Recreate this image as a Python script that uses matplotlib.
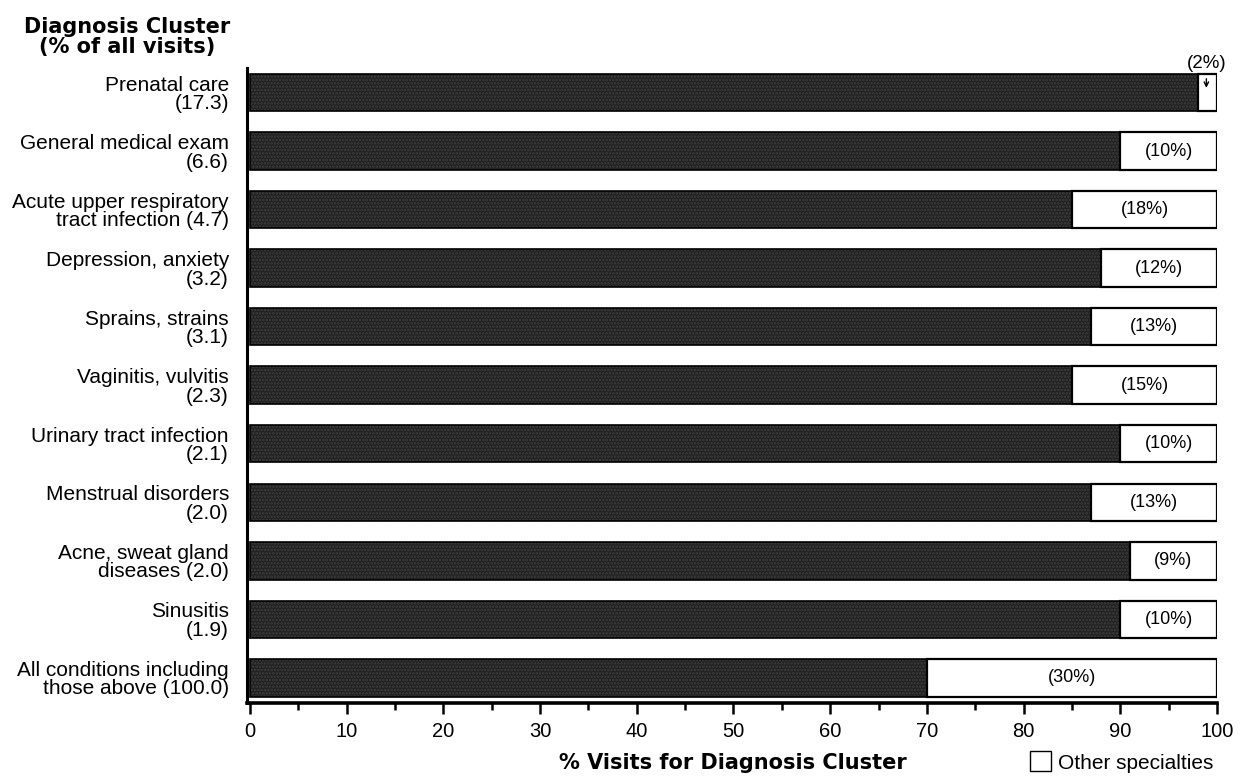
import matplotlib
matplotlib.use("Agg")
import matplotlib.pyplot as plt
from matplotlib.patches import Patch
from matplotlib.ticker import MultipleLocator

plt.rcParams['font.family'] = ['Liberation Sans', 'DejaVu Sans']
plt.rcParams['hatch.linewidth'] = 1.2

# Data
clusters = ["Prenatal care\n(17.3)", "General medical exam\n(6.6)",
            "Acute upper respiratory\ntract infection (4.7)", "Depression, anxiety\n(3.2)",
            "Sprains, strains\n(3.1)", "Vaginitis, vulvitis\n(2.3)",
            "Urinary tract infection\n(2.1)", "Menstrual disorders\n(2.0)",
            "Acne, sweat gland\ndiseases (2.0)", "Sinusitis\n(1.9)",
            "All conditions including\nthose above (100.0)"]
# share drawn as the dark part of each bar
primary = [98, 90, 85, 88, 87, 85, 90, 87, 91, 90, 70]
other_labels = ["(2%)", "(10%)", "(18%)", "(12%)", "(13%)", "(15%)",
                "(10%)", "(13%)", "(9%)", "(10%)", "(30%)"]

fig = plt.figure(figsize=(12.43, 7.82), dpi=100)
ax = fig.add_axes([247 / 1243, 1 - 703 / 782, 970 / 1243, 635 / 782])

ypos = list(range(len(clusters)))
other = [100 - p for p in primary]
bh = 0.64
# dark part: solid fill, a speckle-like hatch, then the black outline
ax.barh(ypos, primary, height=bh, color='#222222', linewidth=0)
ax.barh(ypos, primary, height=bh, fill=False, hatch='.....', edgecolor='#3d3d3d', linewidth=0)
ax.barh(ypos, primary, height=bh, fill=False, edgecolor='black', linewidth=1.2)
ax.barh(ypos, other, left=primary, height=bh, color='white', edgecolor='black', linewidth=1.6)

for i, (p, lab) in enumerate(zip(primary, other_labels)):
    if i == 0:
        ax.annotate(lab, xy=(p + 0.9, i - 0.08), xytext=(p + 0.9, i - 0.5),
                    ha='center', va='center', fontsize=13.5, annotation_clip=False,
                    arrowprops=dict(arrowstyle='->', lw=1, color='black',
                                    shrinkA=3, shrinkB=0, mutation_scale=8))
    else:
        ax.text(p + (100 - p) / 2, i, lab, ha='center', va='center', fontsize=13)

ax.set_xlim(-0.3, 100)
ax.set_ylim(len(clusters) - 1 + 0.43, -0.42)
ax.set_yticks(ypos)
ax.set_yticklabels(clusters, fontsize=15, linespacing=0.97)
ax.tick_params(axis='y', length=0, pad=13)
ax.xaxis.set_major_locator(MultipleLocator(10))
ax.xaxis.set_minor_locator(MultipleLocator(5))
ax.tick_params(axis='x', which='major', length=8, width=1.8, labelsize=14.5, pad=6)
ax.tick_params(axis='x', which='minor', length=5, width=1.8)
for side in ['top', 'right']:
    ax.spines[side].set_visible(False)
ax.spines['left'].set_linewidth(2.2)
ax.spines['bottom'].set_linewidth(2.6)

fig.text(127 / 1243, 1 - 37 / 782, "Diagnosis Cluster\n(% of all visits)", ha='center', va='center',
         fontsize=15, fontweight='bold', family='DejaVu Sans', linespacing=1.05)
fig.text(733 / 1243, 1 - 763 / 782, "% Visits for Diagnosis Cluster", ha='center', va='center',
         fontsize=15, fontweight='bold', family='DejaVu Sans')
fig.legend(handles=[Patch(facecolor='white', edgecolor='black')], labels=["Other specialties"],
           loc='center left', bbox_to_anchor=(1011 / 1243, 1 - 762 / 782), frameon=False,
           handlelength=1.0, handleheight=1.1, handletextpad=0.35, fontsize=15)

fig.savefig("out.png", dpi=100)
